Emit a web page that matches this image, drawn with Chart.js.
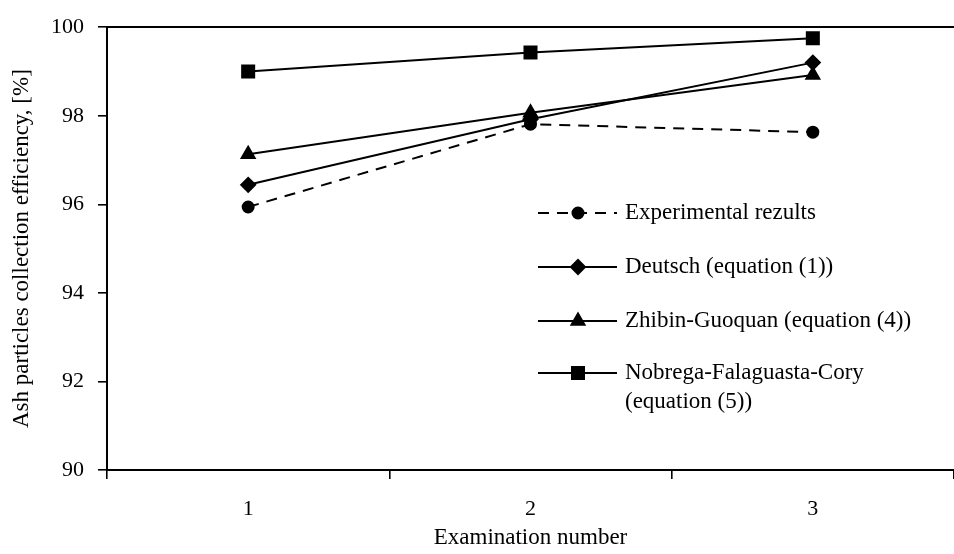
<!DOCTYPE html>
<html>
<head>
<meta charset="utf-8">
<script src="https://cdn.jsdelivr.net/npm/chart.js"></script>
<style>
  body { margin: 0; background: #fff; }
  #wrap { width: 954px; height: 554px; }
</style>
</head>
<body>
<div id="wrap"><canvas id="effChart" width="954" height="554"></canvas></div>
<script>
// data
const examNumbers = ['1', '2', '3'];
const experimental = [95.94, 97.81, 97.63];
const deutsch = [96.44, 97.92, 99.2];
const zhibinGuoquan = [97.13, 98.07, 98.92];
const nobrega = [99.0, 99.43, 99.75];
const yTicks = [90, 92, 94, 96, 98, 100];

const seriesLabels = [
  'Experimental rezults',
  'Deutsch (equation (1))',
  'Zhibin-Guoquan (equation (4))',
  'Nobrega-Falaguasta-Cory\n(equation (5))'
];

const FONT = "'Liberation Serif', 'Times New Roman', serif";

// legend drawn inside the plot, one entry per row like the original
const sideLegend = {
  id: 'sideLegend',
  afterDraw(chart) {
    const ctx = chart.ctx;
    const rows = [213, 267, 321, 373];
    ctx.save();
    chart.data.datasets.forEach((ds, i) => {
      const y = rows[i];
      ctx.strokeStyle = '#000';
      ctx.lineWidth = ds.borderWidth;
      ctx.setLineDash(ds.borderDash || []);
      ctx.beginPath();
      ctx.moveTo(538, y);
      ctx.lineTo(617, y);
      ctx.stroke();
      ctx.setLineDash([]);
      ctx.fillStyle = '#000';
      Chart.helpers.drawPoint(ctx, {
        pointStyle: ds.pointStyle,
        radius: ds.pointRadius,
        borderWidth: 1,
        rotation: 0
      }, 578, y);
      ctx.font = '23px ' + FONT;
      ctx.textBaseline = 'middle';
      ctx.textAlign = 'left';
      ds.label.split('\n').forEach((line, k) => {
        ctx.fillText(line, 625, y + k * 29);
      });
    });
    ctx.restore();
  }
};

const lineDefaults = {
  borderColor: '#000',
  backgroundColor: '#000',
  pointBorderColor: '#000',
  pointBackgroundColor: '#000',
  borderWidth: 2,
  tension: 0,
  fill: false
};

new Chart(document.getElementById('effChart'), {
  type: 'line',
  data: {
    labels: examNumbers,
    datasets: [
      { ...lineDefaults, label: seriesLabels[0], data: experimental, borderDash: [11, 8], pointStyle: 'circle', pointRadius: 5.5 },
      { ...lineDefaults, label: seriesLabels[1], data: deutsch, pointStyle: 'rectRot', pointRadius: 7 },
      { ...lineDefaults, label: seriesLabels[2], data: zhibinGuoquan, pointStyle: 'triangle', pointRadius: 7.5 },
      { ...lineDefaults, label: seriesLabels[3], data: nobrega, pointStyle: 'rect', pointRadius: 8.5 }
    ]
  },
  options: {
    responsive: false,
    animation: false,
    layout: { autoPadding: false, padding: { top: 22, right: 0, bottom: 0, left: 0 } },
    plugins: {
      legend: { display: false },
      tooltip: { enabled: false }
    },
    scales: {
      x: {
        type: 'category',
        offset: true,
        grid: { offset: true, drawOnChartArea: false, drawTicks: true, tickLength: 9, color: '#000', lineWidth: 1.6 },
        border: { display: true, color: '#000', width: 2 },
        ticks: { color: '#000', font: { family: FONT, size: 22 }, padding: 17, maxRotation: 0 },
        title: { display: true, text: 'Examination number', color: '#000', font: { family: FONT, size: 23 }, padding: { top: 0, bottom: 2 } },
        afterFit: (scale) => { scale.height = 84; }
      },
      xTop: {
        type: 'category',
        position: 'top',
        labels: examNumbers,
        grid: { display: false },
        ticks: { display: false },
        border: { display: true, color: '#000', width: 2 },
        afterFit: (scale) => { scale.height = 0; }
      },
      y: {
        min: 90,
        max: 100,
        afterBuildTicks: (scale) => { scale.ticks = yTicks.map((v) => ({ value: v })); },
        grid: { drawOnChartArea: false, drawTicks: true, tickLength: 9, color: '#000', lineWidth: 1.6 },
        border: { display: true, color: '#000', width: 2 },
        ticks: { color: '#000', font: { family: FONT, size: 22 }, padding: 14 },
        title: { display: true, text: 'Ash particles collection efficiency, [%]', color: '#000', font: { family: FONT, size: 23 }, padding: { top: 8, bottom: 0 } },
        afterFit: (scale) => { scale.width = 107; }
      }
    }
  },
  plugins: [sideLegend]
});
</script>
</body>
</html>
